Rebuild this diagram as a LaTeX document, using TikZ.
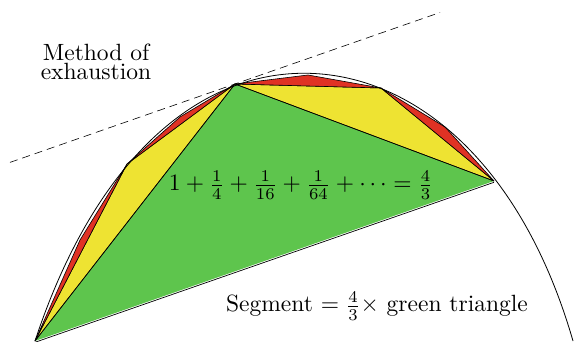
\documentclass[tikz,border=0pt]{standalone}
\usetikzlibrary{calc}
\definecolor{tgreen}{RGB}{94,197,77}
\definecolor{tyellow}{RGB}{238,227,50}
\definecolor{tred}{RGB}{224,50,36}
\begin{document}
\begin{tikzpicture}[x=1pt,y=-1pt,
  tri/.style={draw=black,line width=0.6pt,line join=round},
  curve/.style={draw=black,line width=0.8pt},
  tangent/.style={draw=black,line width=0.6pt,dash pattern=on 8pt off 5pt},
  lbl/.style={anchor=base,inner sep=0pt,scale=2.35}]
\useasboundingbox (0,0) rectangle (574,342);
% vertices
\coordinate (A) at (35,341);
\coordinate (B) at (494,181);
\coordinate (C) at (235,84);
\coordinate (D) at (127,164);
\coordinate (E) at (381,88);
\coordinate (R1) at (80,240);
\coordinate (R2) at (180,117);
\coordinate (R3) at (308,75);
\coordinate (R4) at (445,127);
\coordinate (Z) at (573,341);
\coordinate (Top) at (304,73.25);
\coordinate (q1) at (94,162.5);
\coordinate (q2) at (195.25,73.25);
\coordinate (r1) at (412.75,73.25);
\coordinate (r2) at (521.5,162.5);
\coordinate (T1) at ($(C)+(-225,78.4)$);
\coordinate (T2) at ($(C)+(205,-71.5)$);
% fills
\fill[tgreen] (A) -- (C) -- (B) -- cycle;
\filldraw[tri,fill=tyellow] (A) -- (D) -- (C) -- cycle;
\filldraw[tri,fill=tyellow] (C) -- (E) -- (B) -- cycle;
\filldraw[tri,fill=tred] (A) -- (R1) -- (D) -- cycle;
\filldraw[tri,fill=tred] (D) -- (R2) -- (C) -- cycle;
\filldraw[tri,fill=tred] (C) -- (R3) -- (E) -- cycle;
\filldraw[tri,fill=tred] (E) -- (R4) -- (B) -- cycle;
\draw[tri] (A) -- (C) -- (B);
\draw[line width=0.7pt] ([yshift=-1.3pt]A) -- ([yshift=-1.3pt]B);
% parabola
\draw[curve] (A) .. controls (q1) and (q2) .. (Top) .. controls (r1) and (r2) .. (Z);
% tangent
\draw[tangent] (T1) -- (T2);
% labels
\node[align=center,inner sep=0pt,scale=2.35] (m) at (96,62.2) {Method of\\[-3.8pt]exhaustion};
\node[lbl] (eq) at (301,191) {$1+\frac{1}{4}+\frac{1}{16}+\frac{1}{64}+\cdots=\frac{4}{3}$};
\node[lbl] (seg) at (377,312) {Segment $=\frac{4}{3}\times$ green triangle};
\end{tikzpicture}
\end{document}
